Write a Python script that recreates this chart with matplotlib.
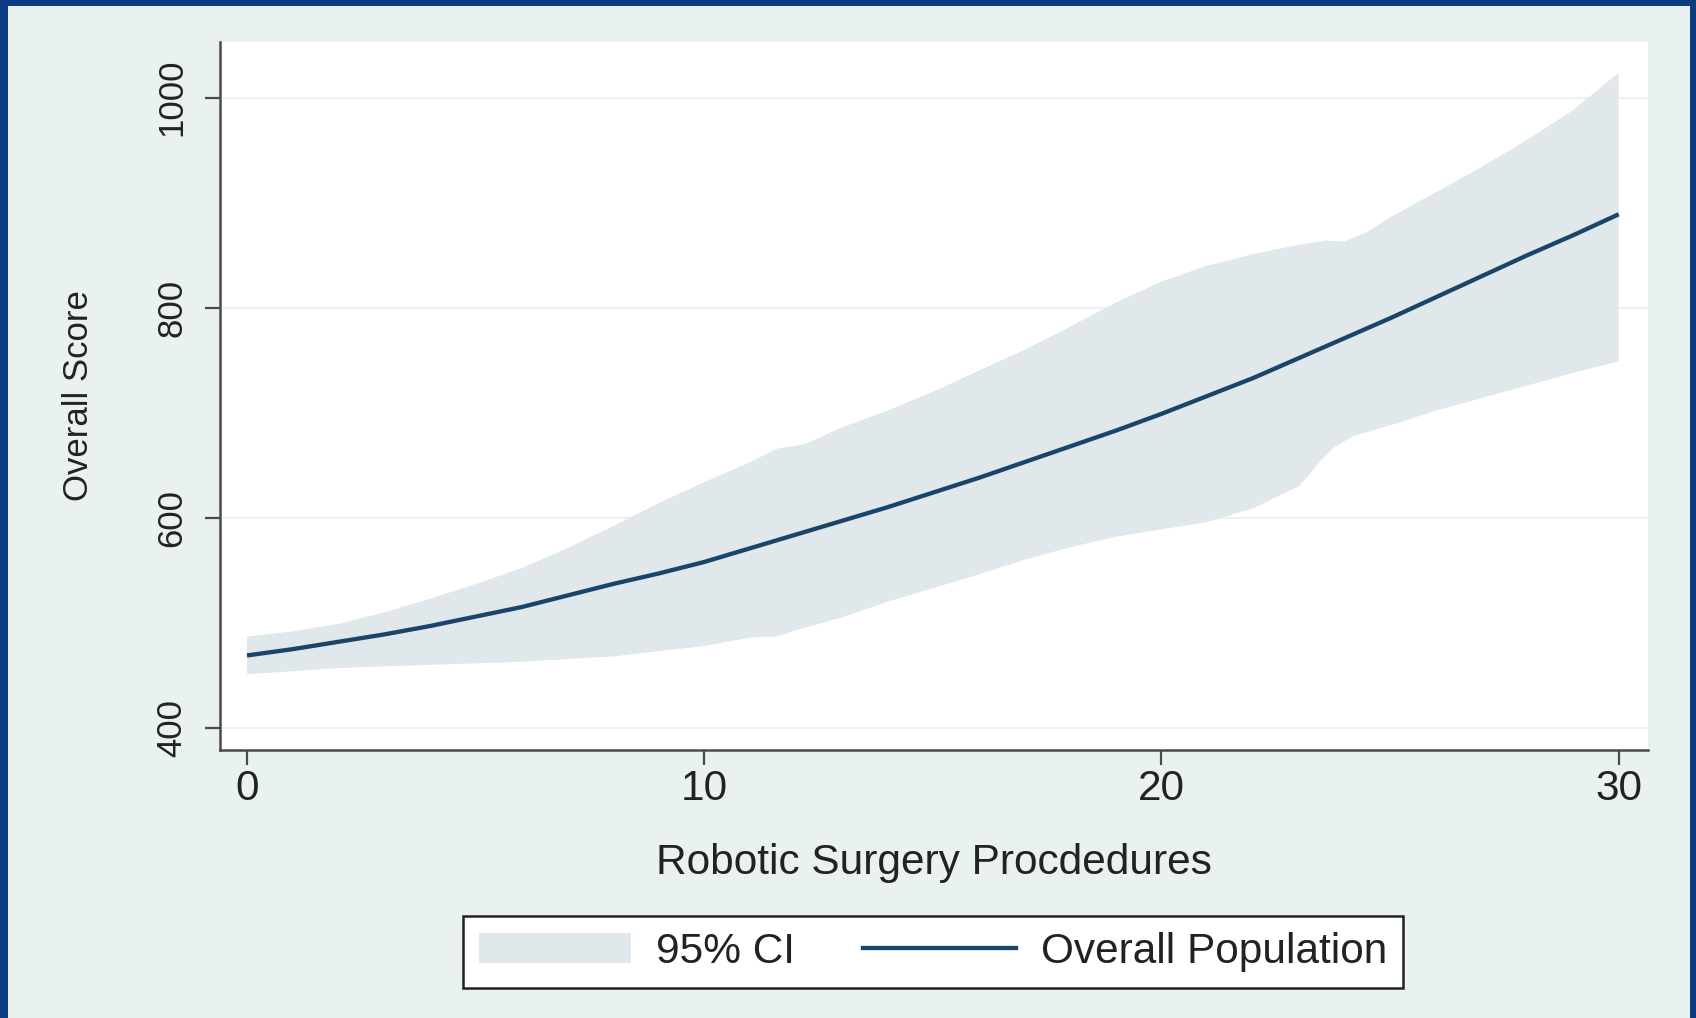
import numpy as np
import matplotlib
matplotlib.use("Agg")
import matplotlib.pyplot as plt
from matplotlib.patches import Rectangle, Patch
from matplotlib.lines import Line2D

plt.rcParams["font.family"] = ["Liberation Sans", "DejaVu Sans"]

# fitted curve (overall population)
fit_x = list(range(31))
fit_y = [469, 475, 482, 489, 497, 506, 515, 526, 537, 547, 558, 571, 584, 597, 610,
         624, 638, 653, 668, 683, 699, 716, 733, 752, 771, 790, 810, 830, 850, 869, 889]

# 95% confidence band, upper and lower edges
ci_hi_x = [0, 1, 2, 3, 4, 5, 6, 7, 8, 9, 10, 11, 11.6, 12.2, 13, 14, 15, 16, 17, 18,
           19, 20, 21, 22, 23, 23.6, 24, 24.5, 25, 26, 27, 28, 29, 30]
ci_hi_y = [487, 492, 499, 510, 523, 537, 552, 571, 592, 614, 634, 653, 666, 670, 686,
           702, 720, 740, 760, 782, 805, 825, 840, 851, 860, 864, 863, 872, 886, 910,
           934, 960, 988, 1024]
ci_lo_x = [0, 2, 4, 6, 8, 10, 11, 11.6, 12, 13, 14, 15, 16, 17, 18, 19, 20, 21, 22,
           23, 23.5, 23.8, 24.2, 25, 26, 27, 28, 29, 30]
ci_lo_y = [451, 457, 460, 463, 468, 478, 486, 487, 493, 505, 520, 533, 546, 560, 572,
           582, 589, 596, 609, 630, 655, 668, 678, 688, 702, 714, 726, 738, 749]

x_ticks = [0, 10, 20, 30]
y_ticks = [400, 600, 800, 1000]

BAND = "#e1e8ec"
LINE = "#1a4468"
PANEL = "#e9f2f1"
FRAME = "#0b3b80"
AXIS = "#4a4a4a"

W, H = 1696, 1018
fig = plt.figure(figsize=(W / 100, H / 100), dpi=100, facecolor=FRAME)
# light panel inside the blue frame, kept behind the axes
fig.patches.append(Rectangle((8 / W, 0), (1690 - 8) / W, (H - 6) / H,
                             transform=fig.transFigure, facecolor=PANEL,
                             edgecolor="none", zorder=-10))

ax = fig.add_axes([220 / W, (H - 750) / H, (1648 - 220) / W, (750 - 42) / H])
ax.set_facecolor("white")

band_x = np.concatenate([ci_hi_x, ci_lo_x[::-1]])
band_y = np.concatenate([ci_hi_y, ci_lo_y[::-1]])
ax.fill(band_x, band_y, color=BAND, lw=0, zorder=1)
ax.plot(fit_x, fit_y, color=LINE, lw=3.1, solid_capstyle="butt",
        solid_joinstyle="round", zorder=3)

ax.set_xlim(-0.59, 30.64)
ax.set_ylim(379, 1053)
ax.set_xticks(x_ticks)
ax.set_yticks(y_ticks)
ax.grid(axis="y", color="#eef1f3", lw=1.6, zorder=0)
ax.set_axisbelow(True)

for side in ("top", "right"):
    ax.spines[side].set_visible(False)
for side in ("left", "bottom"):
    ax.spines[side].set_color(AXIS)
    ax.spines[side].set_linewidth(1.8)

ax.tick_params(axis="both", colors=AXIS, width=1.6, length=11, labelcolor="#222222")
ax.tick_params(axis="x", labelsize=30.5, pad=3)
ax.tick_params(axis="y", labelsize=25, pad=12)
for lab in ax.get_yticklabels():
    lab.set_rotation(90)
    lab.set_va("center")

ax.set_xlabel("Robotic Surgery Procdedures", fontsize=30.5, color="#222222", labelpad=24)
ax.set_ylabel("Overall Score", fontsize=25, color="#222222", labelpad=43)

handles = [Patch(facecolor=BAND, edgecolor="none"),
           Line2D([], [], color=LINE, lw=3.1)]
leg = fig.legend(handles, ["95% CI", "Overall Population"], ncol=2,
                 loc="center", bbox_to_anchor=(933 / W, 1 - 952 / H),
                 fontsize=30.5, frameon=True, fancybox=False, framealpha=1,
                 handlelength=3.6, handleheight=0.7, handletextpad=0.6,
                 columnspacing=1.6, borderpad=0.37, borderaxespad=0)
leg.get_frame().set_edgecolor("#222222")
leg.get_frame().set_linewidth(1.8)
leg.get_frame().set_facecolor("white")
for t in leg.get_texts():
    t.set_color("#222222")

fig.savefig("out.png", dpi=100, facecolor=FRAME)
